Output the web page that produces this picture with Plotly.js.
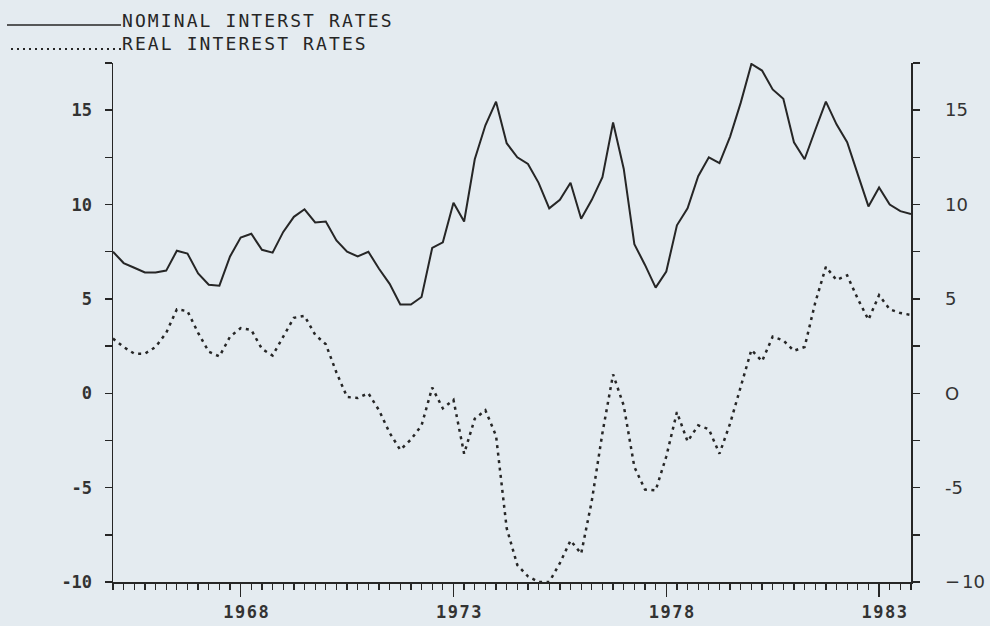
<!DOCTYPE html>
<html>
<head>
<meta charset="utf-8">
<script src="https://cdn.plot.ly/plotly-3.0.1.min.js"></script>
<style>
html,body{margin:0;padding:0;background:#e4ebf0;}
#chart{width:990px;height:626px;}
.annotation-text{letter-spacing:2.1px;}
.xtick text{letter-spacing:1.5px;}
</style>
</head>
<body>
<div id="chart"></div>
<script>
// Quarterly observations, 1965 Q1 ... 1983 Q4 (decimal years)
const quarters = [
 1965,1965.25,1965.5,1965.75, 1966,1966.25,1966.5,1966.75,
 1967,1967.25,1967.5,1967.75, 1968,1968.25,1968.5,1968.75,
 1969,1969.25,1969.5,1969.75, 1970,1970.25,1970.5,1970.75,
 1971,1971.25,1971.5,1971.75, 1972,1972.25,1972.5,1972.75,
 1973,1973.25,1973.5,1973.75, 1974,1974.25,1974.5,1974.75,
 1975,1975.25,1975.5,1975.75, 1976,1976.25,1976.5,1976.75,
 1977,1977.25,1977.5,1977.75, 1978,1978.25,1978.5,1978.75,
 1979,1979.25,1979.5,1979.75, 1980,1980.25,1980.5,1980.75,
 1981,1981.25,1981.5,1981.75, 1982,1982.25,1982.5,1982.75,
 1983,1983.25,1983.5,1983.75
];

const nominalRates = [
 7.5,6.9,6.65,6.4, 6.4,6.5,7.55,7.4,
 6.35,5.75,5.7,7.25, 8.25,8.45,7.6,7.45,
 8.55,9.35,9.75,9.05, 9.1,8.1,7.5,7.25,
 7.5,6.6,5.8,4.7, 4.7,5.1,7.7,8.0,
 10.1,9.1,12.4,14.2, 15.45,13.25,12.5,12.15,
 11.15,9.8,10.25,11.15, 9.25,10.25,11.45,14.35,
 11.9,7.9,6.8,5.6, 6.45,8.9,9.8,11.5,
 12.5,12.2,13.6,15.4, 17.45,17.1,16.1,15.6,
 13.3,12.4,13.95,15.45, 14.25,13.3,11.6,9.9,
 10.9,10.0,9.65,9.5
];

const realRates = [
 2.9,2.45,2.1,2.1, 2.45,3.2,4.45,4.35,
 3.2,2.2,1.95,3.0, 3.45,3.35,2.35,2.0,
 3.0,4.0,4.1,3.1, 2.6,1.1,-0.2,-0.25,
 0.0,-0.9,-2.1,-3.0, -2.45,-1.7,0.3,-0.8,
 -0.35,-3.2,-1.35,-0.9, -2.25,-7.15,-9.1,-9.7,
 -10.0,-10.0,-9.0,-7.8, -8.5,-5.7,-2.1,1.0,
 -0.65,-3.9,-5.1,-5.15, -3.35,-1.0,-2.55,-1.7,
 -1.9,-3.2,-1.6,0.35, 2.3,1.7,3.0,2.8,
 2.25,2.45,4.8,6.7, 6.0,6.25,5.0,3.9,
 5.2,4.45,4.25,4.15
];

const seriesNames = ["NOMINAL INTERST RATES", "REAL INTEREST RATES"];

const xTickVals = [1968, 1973, 1978, 1983];
const xTickText = ["1968", "1973", "1978", "1983"];

const yTickVals = [-10, -7.5, -5, -2.5, 0, 2.5, 5, 7.5, 10, 12.5, 15, 17.5];
const yTickTextLeft = ["-10", "", "-5", "", "0", "", "5", "", "10", "", "15", ""];
const yTickTextRight = ["\u2212\u200a10", "", "-5", "", "O", "", "5", "", "10", "", "15", ""];

// layout geometry (pixels)
const W = 990, H = 626;
const L = 113, R = 911, T = 63, B = 582;
const px2x = p => (p - L) / (R - L);
const px2y = p => (B - p) / (B - T);

const ink = '#262626';
const dotDash = '3px,4.5px';

const traces = [
  {
    x: quarters, y: nominalRates, name: seriesNames[0],
    type: 'scatter', mode: 'lines',
    line: {color: ink, width: 2},
    xaxis: 'x', yaxis: 'y', showlegend: false
  },
  {
    x: quarters, y: realRates, name: seriesNames[1],
    type: 'scatter', mode: 'lines',
    line: {color: ink, width: 2.5, dash: dotDash},
    xaxis: 'x', yaxis: 'y2', showlegend: false
  }
];

const yCommon = {
  range: [-10, 17.5], autorange: false,
  tickmode: 'array', tickvals: yTickVals,
  ticks: 'outside', tickcolor: ink, tickwidth: 1.5,
  showline: true, linecolor: ink, linewidth: 1.5,
  showgrid: false, zeroline: false, fixedrange: true
};

const layout = {
  width: W, height: H,
  margin: {l: L, r: W - R, t: T, b: H - B, pad: 0},
  paper_bgcolor: '#e4ebf0',
  plot_bgcolor: '#e4ebf0',
  showlegend: false,
  hovermode: false,
  xaxis: {
    range: [1965, 1983.75], autorange: false,
    tickmode: 'array', tickvals: xTickVals, ticktext: xTickText,
    ticks: 'outside', ticklen: 13, tickwidth: 1.5, tickcolor: ink,
    ticklabelstandoff: 1, ticklabelshift: 6,
    minor: {tickmode: 'linear', tick0: 1965, dtick: 0.25, ticks: 'outside', ticklen: 6, tickwidth: 1.3, tickcolor: ink, showgrid: false},
    showline: true, linecolor: ink, linewidth: 1.5,
    showgrid: false, zeroline: false, fixedrange: true,
    tickfont: {family: 'DejaVu Sans Mono', size: 17, weight: 'bold', color: '#333'}
  },
  yaxis: Object.assign({}, yCommon, {
    side: 'left', ticktext: yTickTextLeft, ticklen: 7,
    ticklabelstandoff: 9,
    tickfont: {family: 'DejaVu Sans Mono', size: 17, weight: 'bold', color: '#333'}
  }),
  yaxis2: Object.assign({}, yCommon, {
    side: 'right', overlaying: 'y', anchor: 'x', ticktext: yTickTextRight, ticklen: 7,
    ticklabelstandoff: 22,
    tickfont: {family: 'DejaVu Sans', size: 18, color: '#333'}
  }),
  shapes: [
    {type: 'line', xref: 'paper', yref: 'paper',
     x0: px2x(7), x1: px2x(121), y0: px2y(25), y1: px2y(25),
     line: {color: ink, width: 1.6}},
    {type: 'line', xref: 'paper', yref: 'paper',
     x0: px2x(11), x1: px2x(121), y0: px2y(49), y1: px2y(49),
     line: {color: ink, width: 1.8, dash: '2px,4px'}}
  ],
  annotations: [
    {xref: 'paper', yref: 'paper', x: px2x(120), y: px2y(21),
     xanchor: 'left', yanchor: 'middle', showarrow: false, text: seriesNames[0],
     font: {family: 'DejaVu Sans Mono', size: 18, color: ink}},
    {xref: 'paper', yref: 'paper', x: px2x(120), y: px2y(43),
     xanchor: 'left', yanchor: 'middle', showarrow: false, text: seriesNames[1],
     font: {family: 'DejaVu Sans Mono', size: 18, color: ink}}
  ]
};

Plotly.newPlot('chart', traces, layout, {displayModeBar: false, staticPlot: true});
</script>
</body>
</html>
